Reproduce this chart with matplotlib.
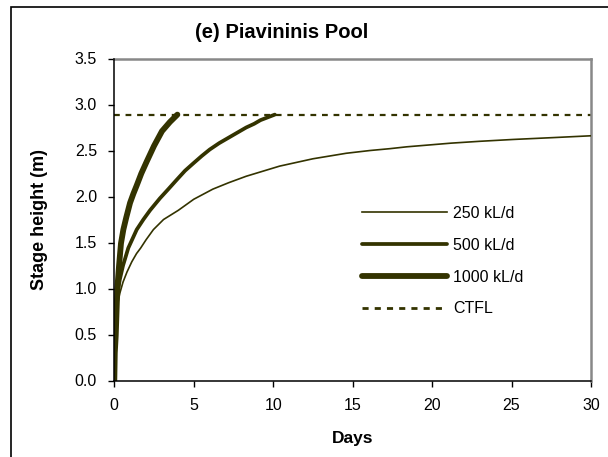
import matplotlib
matplotlib.use("Agg")
import matplotlib.pyplot as plt
from matplotlib.lines import Line2D
from matplotlib.patches import Rectangle

plt.rcParams['font.family'] = ['Liberation Sans', 'DejaVu Sans']

# Stage height (m) over time (days) for three pumping rates
days_250 = [0, 0.05, 0.1, 0.2, 0.35, 0.55, 0.8, 1.1, 1.4, 1.66, 2.0, 2.46, 3.1,
            4.03, 5.0, 6.2, 7.2, 8.3, 10.4, 12.5, 14.6, 16.1, 17.35, 18.4, 19.8,
            21.2, 23.0, 25.1, 27.6, 30.0]
stage_250 = [0, 0.45, 0.65, 0.82, 0.95, 1.07, 1.18, 1.29, 1.38, 1.44, 1.53, 1.64,
             1.75, 1.85, 1.97, 2.08, 2.15, 2.22, 2.33, 2.41, 2.47, 2.50, 2.52,
             2.54, 2.56, 2.58, 2.60, 2.62, 2.64, 2.66]

days_500 = [0, 0.04, 0.1, 0.2, 0.35, 0.55, 0.88, 1.41, 1.83, 2.25, 2.87, 3.4,
            3.92, 4.45, 4.97, 5.5, 6.0, 6.6, 7.2, 7.8, 8.3, 8.8, 9.2, 9.65, 10.1]
stage_500 = [0, 0.5, 0.75, 0.95, 1.1, 1.25, 1.44, 1.64, 1.75, 1.85, 1.98, 2.08,
             2.18, 2.28, 2.36, 2.44, 2.51, 2.58, 2.64, 2.70, 2.75, 2.79, 2.83,
             2.86, 2.89]

days_1000 = [0, 0.03, 0.09, 0.19, 0.3, 0.42, 0.57, 0.75, 0.99, 1.2, 1.41, 1.7,
             2.04, 2.5, 3.0, 3.5, 3.97]
stage_1000 = [0, 0.3, 0.49, 1.0, 1.25, 1.49, 1.64, 1.77, 1.93, 2.03, 2.12, 2.25,
              2.38, 2.55, 2.71, 2.81, 2.89]

ctfl = 2.89  # cease-to-flow level (m)

series_labels = ['250 kL/d', '500 kL/d', '1000 kL/d', 'CTFL']
x_ticks = [0, 5, 10, 15, 20, 25, 30]
y_ticks = [0.0, 0.5, 1.0, 1.5, 2.0, 2.5, 3.0, 3.5]

W, H = 608, 457
line_col = '#333300'

fig = plt.figure(figsize=(W / 100, H / 100), dpi=100)
fig.patch.set_facecolor('white')

# outer chart border (left and top edges visible)
fig.patches.append(Rectangle((11 / W, -0.2), 1.5, 1.2 - 7 / H,
                             transform=fig.transFigure, fill=False,
                             edgecolor='black', linewidth=1.2, zorder=0))

left, right, top, bottom = 114.3, 591.0, 58.5, 380.5
ax = fig.add_axes([left / W, 1 - bottom / H, (right - left) / W, (bottom - top) / H])

ax.axhline(ctfl, color=line_col, linewidth=1.6, linestyle=(0, (2.6, 2.6)),
           label=series_labels[3], zorder=2)
ax.plot(days_250, stage_250, color=line_col, linewidth=1.2,
        solid_capstyle='round', label=series_labels[0], zorder=3)
ax.plot(days_500, stage_500, color=line_col, linewidth=2.7,
        solid_capstyle='round', solid_joinstyle='round',
        label=series_labels[1], zorder=4)
ax.plot(days_1000, stage_1000, color=line_col, linewidth=4.2,
        solid_capstyle='round', solid_joinstyle='round',
        label=series_labels[2], zorder=5)

ax.set_xlim(0, 30)
ax.set_ylim(0, 3.5)
ax.set_xticks(x_ticks)
ax.set_yticks(y_ticks)
ax.set_xticklabels([str(t) for t in x_ticks])
ax.set_yticklabels([f'{t:.1f}' for t in y_ticks])
ax.tick_params(direction='out', length=4.5, width=1.0, labelsize=11.5, pad=8,
               colors='black')

for s in ('left', 'bottom'):
    ax.spines[s].set_color('black')
    ax.spines[s].set_linewidth(1.1)
    ax.spines[s].set_zorder(6)
for s in ('top', 'right'):
    ax.spines[s].set_color('#888888')
    ax.spines[s].set_linewidth(1.8)

handles = [
    Line2D([], [], color=line_col, linewidth=1.2),
    Line2D([], [], color=line_col, linewidth=2.7, solid_capstyle='round'),
    Line2D([], [], color=line_col, linewidth=4.2, solid_capstyle='round'),
    Line2D([], [], color=line_col, linewidth=2.0, linestyle=(0, (2.2, 2.2))),
]
ax.legend(handles, series_labels, loc='upper left',
          bbox_to_anchor=(362 / W, 1 - 206 / H), bbox_transform=fig.transFigure,
          frameon=False, fontsize=11.5, handlelength=5.3, handletextpad=0.4,
          labelspacing=1.05, borderpad=0, borderaxespad=0)

fig.text(282 / W, 1 - 33 / H, '(e) Piavininis Pool', ha='center', va='center',
         fontsize=14.5, fontweight='bold')
fig.text(40 / W, 1 - (top + bottom) / 2 / H, 'Stage height (m)', rotation=90,
         ha='center', va='center', fontsize=13, fontweight='bold')
fig.text((left + right) / 2 / W, 1 - 438 / H, 'Days', ha='center', va='center',
         fontsize=12.5, fontweight='bold')

fig.savefig('out.png', dpi=100)
